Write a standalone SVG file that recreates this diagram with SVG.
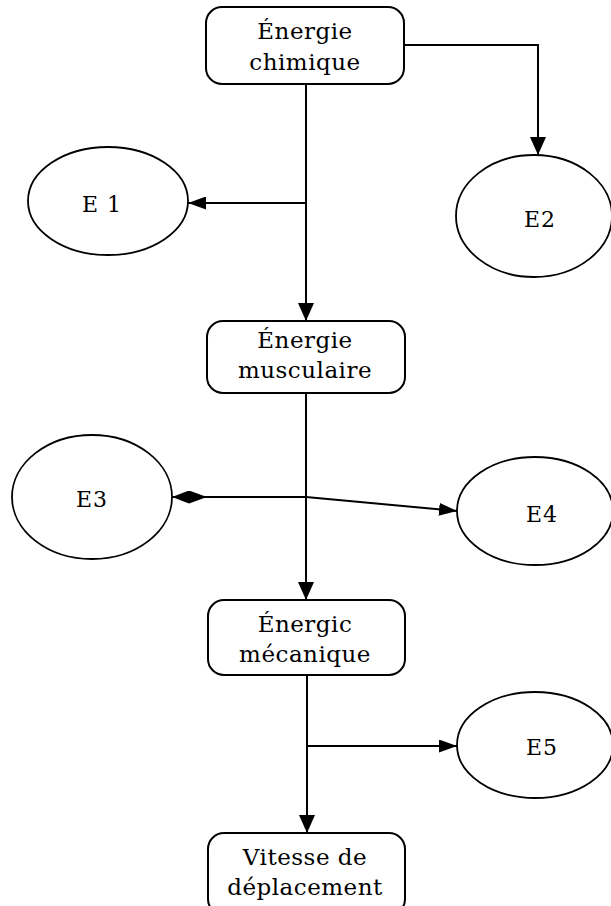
<svg xmlns="http://www.w3.org/2000/svg" width="611" height="906" viewBox="0 0 611 906">
<style>
.box{fill:#fff;stroke:#000;stroke-width:2}
.ell{fill:#fff;stroke:#000;stroke-width:1.8}
.t{font-family:"DejaVu Serif","Liberation Serif",serif;font-size:23px;letter-spacing:0.5px;fill:#000;text-anchor:middle}
.e{font-family:"DejaVu Serif","Liberation Serif",serif;font-size:22px;letter-spacing:1px;fill:#000;text-anchor:middle}
.c{fill:none;stroke:#000;stroke-width:2}
</style>
<defs>
<marker id="arr" markerUnits="userSpaceOnUse" markerWidth="18" markerHeight="16" refX="18" refY="8" orient="auto" viewBox="0 0 18 16">
<path d="M0,0 L18,8 L0,16 z" fill="#000"/>
</marker>
<marker id="arrs" markerUnits="userSpaceOnUse" markerWidth="18" markerHeight="13" refX="18" refY="6.5" orient="auto" viewBox="0 0 18 13">
<path d="M0,0 L18,6.5 L0,13 z" fill="#000"/>
</marker>
<marker id="dia" markerUnits="userSpaceOnUse" markerWidth="35" markerHeight="13" refX="0" refY="6.5" orient="auto" viewBox="0 0 35 13">
<path d="M0,6.5 L17,0 L35,6.5 L17,13 z" fill="#000"/>
</marker>
</defs>
<g id="connectors">
<path class="c" d="M306,84 V321" marker-end="url(#arr)"/>
<path class="c" d="M306,203 H188" marker-end="url(#arrs)"/>
<path class="c" d="M404,45 H538 V155" marker-end="url(#arr)"/>
<path class="c" d="M306,393 V600" marker-end="url(#arr)"/>
<path class="c" d="M172,497 H306 L457,511" marker-start="url(#dia)" marker-end="url(#arrs)"/>
<path class="c" d="M307,675 V833" marker-end="url(#arr)"/>
<path class="c" d="M307,746 H457" marker-end="url(#arrs)"/>
</g>
<g id="chimique">
<rect class="box" x="206" y="7" width="198" height="77" rx="16"/>
<text class="t" x="305" y="39">Énergie</text>
<text class="t" x="305" y="70">chimique</text>
</g>
<g id="musculaire">
<rect class="box" x="207" y="321" width="198" height="72" rx="16"/>
<text class="t" x="305" y="348">Énergie</text>
<text class="t" x="305" y="378">musculaire</text>
</g>
<g id="mecanique">
<rect class="box" x="208" y="600" width="197" height="75" rx="16"/>
<text class="t" x="305" y="632">Énergic</text>
<text class="t" x="305" y="662">mécanique</text>
</g>
<g id="vitesse">
<rect class="box" x="208" y="833" width="197" height="82" rx="16"/>
<text class="t" x="305" y="865">Vitesse de</text>
<text class="t" x="305" y="895">déplacement</text>
</g>
<g id="E1">
<ellipse class="ell" cx="108" cy="201" rx="80" ry="54"/>
<text class="e" x="102" y="212">E 1</text>
</g>
<g id="E2">
<ellipse class="ell" cx="534" cy="216" rx="78" ry="61"/>
<text class="e" x="540" y="227">E2</text>
</g>
<g id="E3">
<ellipse class="ell" cx="92" cy="497" rx="80" ry="62"/>
<text class="e" x="92" y="507">E3</text>
</g>
<g id="E4">
<ellipse class="ell" cx="535" cy="511" rx="78" ry="54"/>
<text class="e" x="542" y="522">E4</text>
</g>
<g id="E5">
<ellipse class="ell" cx="535" cy="745" rx="78" ry="53"/>
<text class="e" x="542" y="755">E5</text>
</g>
</svg>
